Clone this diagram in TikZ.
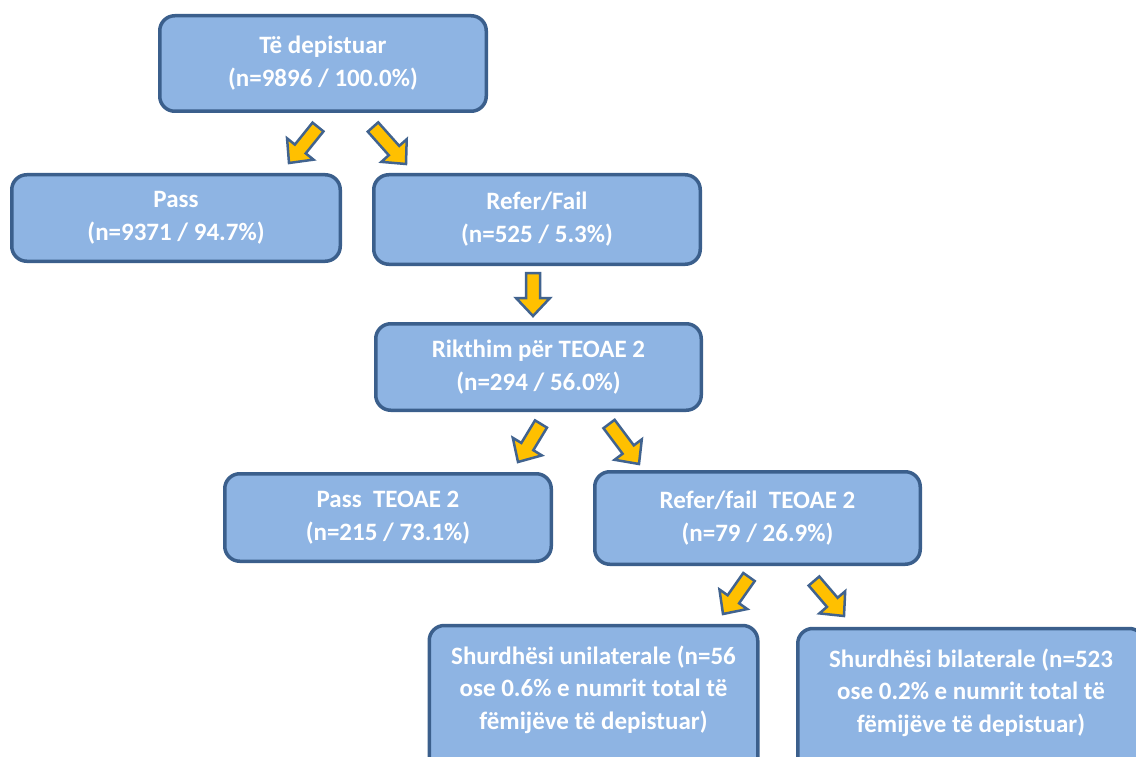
\documentclass[tikz,border=0pt]{standalone}
\usepackage{fontspec}
\setmainfont{Carlito}
\usetikzlibrary{calc}
\definecolor{boxfill}{HTML}{8EB4E3}
\definecolor{boxline}{HTML}{3B5F8C}
\definecolor{arrfill}{HTML}{FFC000}
\definecolor{arrline}{HTML}{41638F}
\tikzset{
  box/.style={draw=boxline, fill=boxfill, line width=3.5pt, rounded corners=15pt,
    text=white, align=center, inner sep=0pt,
    font=\bfseries\fontsize{25}{33}\selectfont},
  tallbox/.style={box, anchor=north, font=\bfseries\fontsize{25}{32.5}\selectfont,
    text height=103.5pt, text depth=200pt},
  blockarrow/.style={draw=arrline, fill=arrfill, line width=2.5pt, line join=miter},
}
\newcommand\barrow[2]{%
  \path[blockarrow] let \p1=($(#2)-(#1)$), \n1={atan2(\y1,\x1)},
      \n2={veclen(\x1,\y1)}, \n3={\n2-18} in
    ($(#1)+(\n1+90:7pt)$) -- ($(#1)+(\n1:\n3)+(\n1+90:7pt)$)
    -- ($(#1)+(\n1:\n3)+(\n1+90:17pt)$) -- (#2)
    -- ($(#1)+(\n1:\n3)+(\n1-90:17pt)$) -- ($(#1)+(\n1:\n3)+(\n1-90:7pt)$)
    -- ($(#1)+(\n1-90:7pt)$) -- cycle;}
\begin{document}
\begin{tikzpicture}[x=1pt,y=-1pt]
\useasboundingbox (0,0) rectangle (1136,757);
\clip (0,0) rectangle (1136,757);
% boxes
\node[box, minimum width=326.5, minimum height=95.5] (top) at (323,63.5)
  {Të depistuar\\(n=9896 / 100.0\%)};
\node[box, minimum width=328.5, minimum height=86.5] (pass) at (176,218)
  {Pass\\(n=9371 / 94.7\%)};
\node[box, minimum width=326.5, minimum height=89.5] (refer) at (537,219.5)
  {Refer/Fail\\(n=525 / 5.3\%)};
\node[box, minimum width=325.5, minimum height=86.5] (rik) at (538.5,367)
  {Rikthim për TEOAE 2\\(n=294 / 56.0\%)};
\node[box, minimum width=326.5, minimum height=87.5] (pass2) at (388,517.5)
  {Pass\ \ TEOAE 2\\(n=215 / 73.1\%)};
\node[box, minimum width=325.5, minimum height=92.5] (refer2) at (757.5,518)
  {Refer/fail\ \ TEOAE 2\\(n=79 / 26.9\%)};
\node[tallbox, minimum width=328.5] (uni) at (593.5,623.75)
  {Shurdhësi unilaterale (n=56\\ose 0.6\% e numrit total të\\fëmijëve të depistuar)};
\node[tallbox, minimum width=346.5] (bi) at (971,626.75)
  {Shurdhësi bilaterale (n=523\\ose 0.2\% e numrit total të\\fëmijëve të depistuar)};
% arrows
\coordinate (a1s) at (318,127); \coordinate (a1e) at (289,163);
\coordinate (a2s) at (373,127); \coordinate (a2e) at (406,164);
\coordinate (a3s) at (533,273); \coordinate (a3e) at (533,316);
\coordinate (a4s) at (541,424); \coordinate (a4e) at (518,462);
\coordinate (a5s) at (609,424); \coordinate (a5e) at (639,464);
\coordinate (a6s) at (749,577); \coordinate (a6e) at (723,614);
\coordinate (a7s) at (814,581); \coordinate (a7e) at (844,616);
\barrow{a1s}{a1e}
\barrow{a2s}{a2e}
\barrow{a3s}{a3e}
\barrow{a4s}{a4e}
\barrow{a5s}{a5e}
\barrow{a6s}{a6e}
\barrow{a7s}{a7e}
\end{tikzpicture}
\end{document}
